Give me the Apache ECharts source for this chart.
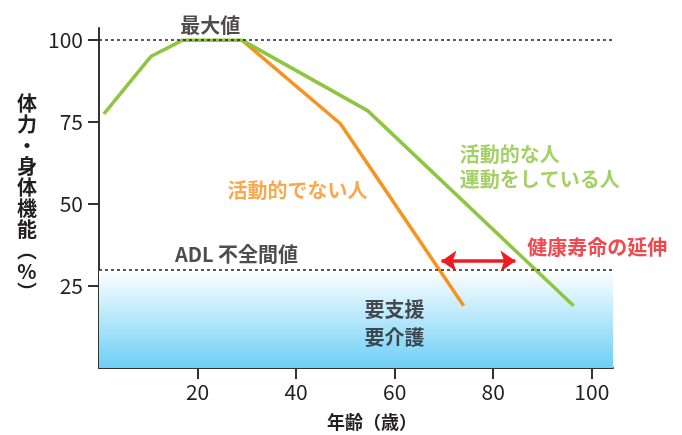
<!DOCTYPE html>
<html>
<head>
<meta charset="utf-8">
<script src="https://cdn.jsdelivr.net/npm/echarts@6/dist/echarts.min.js"></script>
<style>
  html, body { margin: 0; padding: 0; background: #fff; }
  #chart { width: 682px; height: 435px; }
</style>
</head>
<body>
<div id="chart"></div>
<script>
const ageTicks = [20, 40, 60, 80, 100];
const fitnessTicks = [25, 50, 75, 100];

// 活動的な人・運動をしている人
const activeAge = [1, 10.5, 17, 29, 54.5, 96.3];
const activeFitness = [77.5, 95, 100, 100, 78.5, 19];

// 活動的でない人
const inactiveAge = [29, 49, 74];
const inactiveFitness = [100, 74.5, 19];

const peakLevel = 100;
const adlLevel = 30;
const extensionAges = [69.5, 84.5];
const extensionLevel = 32.6;

const noteTexts = ["最大値", "ADL 不全間値", "活動的でない人", "活動的な人\n運動をしている人", "健康寿命の延伸", "要支援\n要介護"];
const noteAges = [22.6, 27.9, 26.1, 73.2, 86.9, 53.9];
const noteLevels = [104.6, 34.5, 54.3, 61.4, 36.7, 13.7];

const FONT = "'Noto Sans CJK JP', 'Noto Sans', sans-serif";
const GREEN = "#8dc63f";
const ORANGE = "#f7931e";
const RED = "#ed1c24";
const INK = "#231f20";

const noteStyles = [
  { color: INK, align: "center" },
  { color: INK, align: "center" },
  { color: ORANGE, align: "left" },
  { color: GREEN, align: "left", lineHeight: 25 },
  { color: RED, align: "left" },
  { color: INK, align: "left", lineHeight: 28 },
];

const pairs = (xs, ys) => xs.map((x, i) => [x, ys[i]]);

const chart = echarts.init(document.querySelector("#chart"));

chart.setOption({
  animation: false,
  grid: {
    left: 99,
    right: 69,
    top: 28,
    bottom: 67,
    outerBoundsMode: "none",
  },
  xAxis: {
    type: "value",
    min: 0,
    max: 104.3,
    name: "年齢（歳）",
    nameLocation: "middle",
    nameGap: 45,
    nameTextStyle: {
      fontFamily: FONT,
      fontSize: 18,
      fontWeight: "bold",
      color: INK,
      lineHeight: 18,
      padding: [0, 0, 0, 32],
    },
    axisLine: { lineStyle: { color: "#333", width: 2 } },
    axisTick: {
      customValues: ageTicks,
      length: 11,
      lineStyle: { color: "#333", width: 2 },
    },
    axisLabel: {
      customValues: ageTicks,
      margin: 14,
      fontFamily: FONT,
      fontSize: 21,
      color: INK,
    },
    splitLine: { show: false },
  },
  yAxis: {
    type: "value",
    min: 0,
    max: 103.7,
    name: ["体", "力", "・", "身", "体", "機", "能", "︵", "%", "︶"].join("\n"),
    nameLocation: "middle",
    nameRotate: 0,
    nameGap: 72,
    nameTextStyle: {
      fontFamily: FONT,
      fontSize: 20,
      fontWeight: "bold",
      color: INK,
      lineHeight: 21,
      align: "center",
    },
    axisLine: { lineStyle: { color: "#333", width: 2 } },
    axisTick: {
      customValues: fitnessTicks,
      length: 11,
      lineStyle: { color: "#333", width: 2 },
    },
    axisLabel: {
      customValues: fitnessTicks,
      margin: 16,
      fontFamily: FONT,
      fontSize: 21,
      color: INK,
    },
    splitLine: { show: false },
  },
  series: [
    {
      // 要支援・要介護 zone and reference lines
      type: "line",
      data: [],
      z: 1,
      silent: true,
      markArea: {
        silent: true,
        itemStyle: {
          color: new echarts.graphic.LinearGradient(0, 0, 0, 1, [
            { offset: 0, color: "#ffffff" },
            { offset: 1, color: "#6dcff6" },
          ]),
        },
        data: [[{ yAxis: 0 }, { yAxis: adlLevel }]],
      },
      markLine: {
        silent: true,
        symbol: "none",
        label: { show: false },
        lineStyle: { color: "#222", width: 1.5, type: [3, 3] },
        data: [{ yAxis: peakLevel }, { yAxis: adlLevel }],
      },
    },
    {
      name: "活動的でない人",
      type: "line",
      z: 3,
      symbol: "none",
      lineStyle: { color: ORANGE, width: 3.5 },
      data: pairs(inactiveAge, inactiveFitness),
    },
    {
      name: "活動的な人",
      type: "line",
      z: 4,
      symbol: "none",
      lineStyle: { color: GREEN, width: 3.5 },
      data: pairs(activeAge, activeFitness),
    },
    {
      // 健康寿命の延伸 arrow
      type: "line",
      data: [],
      z: 5,
      silent: true,
      markLine: {
        silent: true,
        symbol: ["arrow", "arrow"],
        symbolSize: [16, 15],
        label: { show: false },
        lineStyle: { color: RED, width: 3.5, type: "solid" },
        data: [
          [
            { coord: [extensionAges[0], extensionLevel] },
            { coord: [extensionAges[1], extensionLevel] },
          ],
        ],
      },
    },
    {
      type: "scatter",
      z: 6,
      silent: true,
      clip: false,
      symbolSize: 0,
      data: noteAges.map((x, i) => ({
        value: [x, noteLevels[i]],
        label: noteStyles[i],
      })),
      label: {
        show: true,
        position: "inside",
        verticalAlign: "middle",
        fontFamily: FONT,
        fontSize: 20,
        fontWeight: "bold",
        lineHeight: 22,
        formatter: (p) => noteTexts[p.dataIndex],
      },
    },
  ],
});
</script>
</body>
</html>
